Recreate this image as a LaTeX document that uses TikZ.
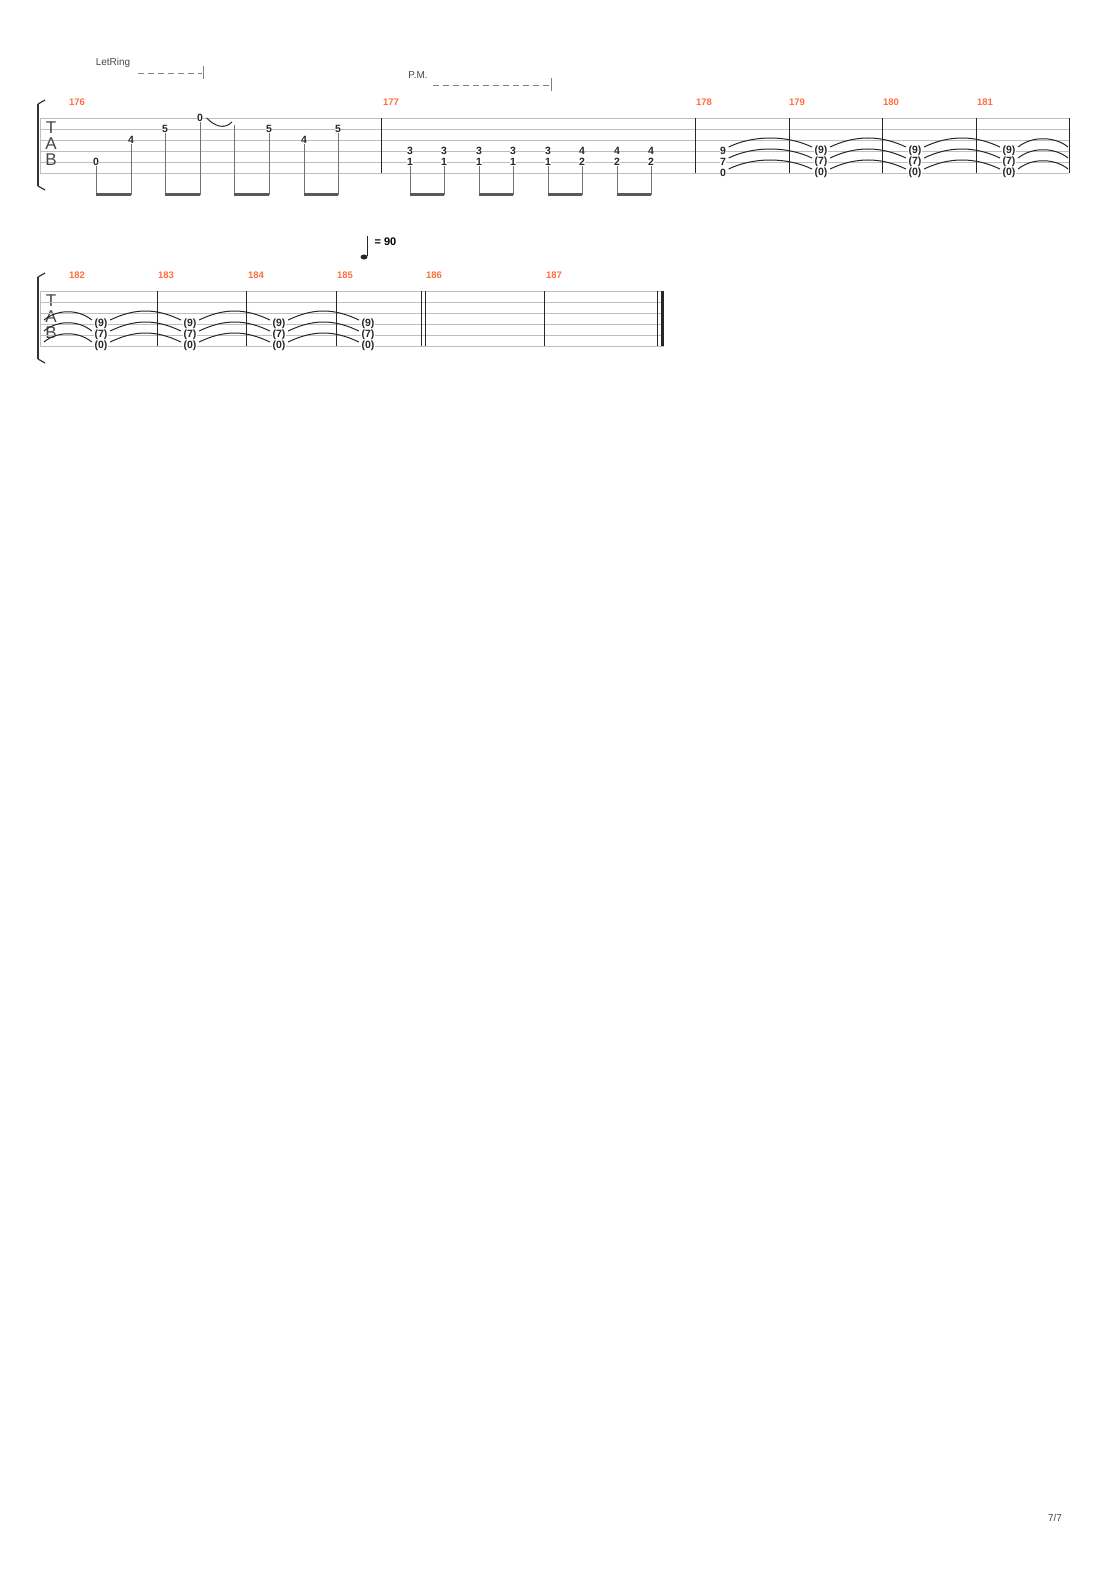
\documentclass[tikz,border=0pt]{standalone}
\usepackage{fontspec}
\setmainfont{Liberation Sans}
\usepackage{tikz}
\usetikzlibrary{positioning,calc}
\definecolor{barnum}{RGB}{255,110,60}
\definecolor{staffline}{RGB}{190,190,190}
\definecolor{textgray}{RGB}{70,70,70}

\tikzset{
  fret/.style={font=\fontsize{10.5}{10.5}\selectfont\bfseries, inner sep=0.5pt, fill=white, text=black!85},
  bnum/.style={font=\fontsize{9.5}{9.5}\selectfont\bfseries, text=barnum},
  stem/.style={gray!90!black, line width=0.8pt},
  beam/.style={gray!70!black, line width=3pt},
  tie/.style={line width=1pt, black!85},
  tabletter/.style={font=\fontsize{17}{17}\selectfont, text=textgray, inner sep=0pt},
  effect/.style={font=\fontsize{10}{10}\selectfont, text=textgray}
}

\begin{document}
\begin{tikzpicture}[x=1pt,y=-1pt]
    \useasboundingbox (0,0) rectangle (1110,1570);

    % Staves
    \foreach \top in {118,291} {
        \foreach \s in {0,...,5}
            \draw[staffline, line width=0.8pt] (40,\top+11*\s) -- (1069,\top+11*\s);
        \draw[line width=2pt, black!80] (38,\top-14) -- (38,\top+68);
        \draw[line width=1.2pt, black!80] (38,\top-14) -- (45,\top-18) (38,\top+68) -- (45,\top+72);
        \draw[staffline] (40,\top) -- (40,\top+55);
        \node[tabletter] (t\top) at (51,\top+10) {T};
        \node[tabletter] (a\top) at (51,\top+26) {A};
        \node[tabletter] (b\top) at (51,\top+42) {B};
    }
    \fill[white] (664,289) rectangle (1075,350);
    \foreach \s in {0,...,5}
        \draw[staffline, line width=0.8pt] (40,291+11*\s) -- (662,291+11*\s);

    % Bar lines
    \foreach \x in {381,695,789,882,976,1069}
        \draw[black!85, line width=0.9pt] (\x,118) -- (\x,173);
    \foreach \x in {157,246,336,421,425,544,657}
        \draw[black!85, line width=0.9pt] (\x,291) -- (\x,346);
    \draw[black!85, line width=3pt] (662,291) -- (662,346);

    % Bar numbers
    \foreach \x/\n in {77/176,391/177,704/178,797/179,891/180,985/181}
        \node[bnum] at (\x,102) {\n};
    \foreach \x/\n in {77/182,166/183,256/184,345/185,434/186,554/187}
        \node[bnum] at (\x,275) {\n};

    % Measure 176
    \foreach \x/\y/\f [count=\i] in {96/162/0,131/140/4,165/129/5,200/118/0,269/129/5,304/140/4,338/129/5}
        \node[fret] (a\i) at (\x,\y) {\f};
    \coordinate (a0) at (234,125);
    \foreach \i in {1,...,7}
        \draw[stem] (a\i.south) -- (a\i.south |- 0,195);
    \draw[stem] (a0) -- (234,195);
    \draw[beam] (96,195) -- (131,195) (165,195) -- (200,195) (234,195) -- (269,195) (304,195) -- (338,195);
    \draw[tie] (a4.east) ++(3,0) .. controls +(8,8) and +(-8,8) .. (232,122);

    % Measure 177
    \foreach \x/\u/\l [count=\i] in {410/3/1,444/3/1,479/3/1,513/3/1,548/3/1,582/4/2,617/4/2,651/4/2} {
        \node[fret] (b\i u) at (\x,151) {\u};
        \node[fret] (b\i l) at (\x,162) {\l};
        \draw[stem] (b\i l.south) -- (\x,195);
    }
    \draw[beam] (410,195) -- (444,195) (479,195) -- (513,195) (548,195) -- (582,195) (617,195) -- (651,195);

    % Effects
    \node[effect] (letring) at (113,63) {LetRing};
    \draw[gray, dash pattern=on 6pt off 4pt] (138,73) -- (202,73);
    \draw[gray] (203,66) -- (203,79);
    \node[effect] (pm) at (418,75) {P.M.};
    \draw[gray, dash pattern=on 6pt off 4pt] (433,85) -- (549,85);
    \draw[gray] (551,78) -- (551,91);

    % Held chords 178-185
    \node[fret] (c1s4) at (723,151) {9};
    \node[fret] (c1s5) at (723,162) {7};
    \node[fret] (c1s6) at (723,173) {0};
    \foreach \x [count=\i from 2] in {821,915,1009} {
        \node[fret] (c\i s4) at (\x,151) {(9)};
        \node[fret] (c\i s5) at (\x,162) {(7)};
        \node[fret] (c\i s6) at (\x,173) {(0)};
    }
    \foreach \x [count=\i from 6] in {101,190,279,368} {
        \node[fret] (c\i s4) at (\x,324) {(9)};
        \node[fret] (c\i s5) at (\x,335) {(7)};
        \node[fret] (c\i s6) at (\x,346) {(0)};
    }
    \foreach \s in {4,5,6} {
        \foreach \i [evaluate=\i as \j using int(\i+1)] in {1,2,3,6,7,8}
            \draw[tie] ($(c\i s\s.east)+(2,-4)$) .. controls +(25,-12) and +(-25,-12) .. ($(c\j s\s.west)+(-2,-4)$);
        \coordinate (r\s) at (1068,103+11*\s);
        \coordinate (l\s) at (44,276+11*\s);
        \draw[tie] ($(c4s\s.east)+(2,-4)$) .. controls +(15,-12) and +(-12,-10) .. (r\s);
        \draw[tie] (l\s) .. controls +(12,-10) and +(-15,-12) .. ($(c6s\s.west)+(-2,-4)$);
    }

    % Tempo
    \fill[black!85] (364,257) ellipse (3.5pt and 2.5pt);
    \draw[black!85, line width=0.8pt] (367,256) -- (367,236);
    \node[font=\fontsize{11}{11}\selectfont\bfseries, anchor=west] (tempo) at (371,242) {= 90};

    % Page number
    \node[font=\fontsize{10}{10}\selectfont, text=textgray] (page) at (1055,1518) {7/7};
\end{tikzpicture}
\end{document}
